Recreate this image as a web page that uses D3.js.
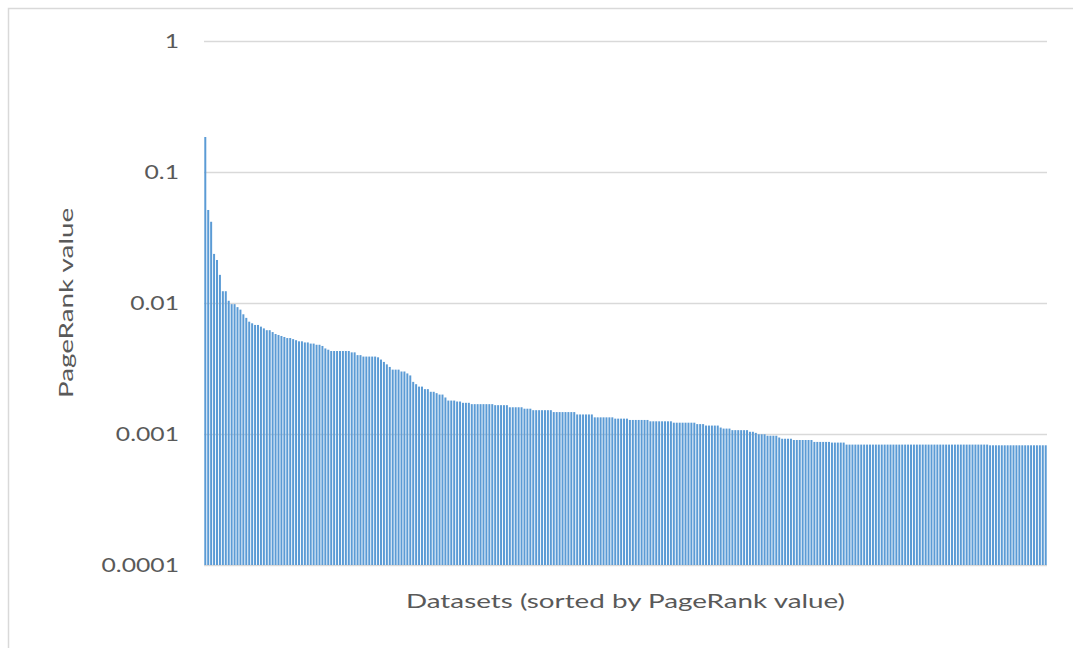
<!DOCTYPE html>
<html>
<head>
<meta charset="utf-8">
<script src="https://cdn.jsdelivr.net/npm/d3@7"></script>
<style>
  body { margin: 0; background: #fff; }
  svg text { font-family: Lato, "Open Sans", sans-serif; fill: #595959; }
</style>
</head>
<body>
<div id="chart"></div>
<script>
// variables
const WIDTH = 1073;
const HEIGHT = 648;
const MARGIN = { top: 41, right: 26, bottom: 83, left: 204 };
const BAR_COLOR = "#5b9bd5";
const GRID_COLOR = "#d9d9d9";
const TICK_STRETCH = 1.3;
const TITLE_STRETCH = 1.39;

// data: PageRank values (sorted, highest first)
const headValues = [
  0.185, 0.0513, 0.0417, 0.0237, 0.0213, 0.0164, 0.0123, 0.0123, 0.0104, 0.0098,
  0.0098, 0.0093, 0.0089, 0.0082, 0.0077, 0.0072, 0.0070, 0.0068, 0.0068, 0.0066,
  0.0064, 0.0062, 0.0062, 0.0060, 0.0058, 0.0057, 0.0056, 0.0055, 0.0054, 0.0054,
  0.0053, 0.0052, 0.0051, 0.0051, 0.0050, 0.0050, 0.0049, 0.0049, 0.0048, 0.0048,
  0.0047, 0.0045, 0.0044, 0.0043, 0.0043, 0.0043, 0.0043, 0.0043, 0.0043, 0.0043,
  0.0042, 0.0042, 0.0040, 0.0040, 0.0039, 0.0039, 0.0039, 0.0039, 0.0039, 0.00385,
  0.0037, 0.00355, 0.0034, 0.00325, 0.0031, 0.0031, 0.0031, 0.0030, 0.0030, 0.0029
];
const midValues = [
  0.0028, 0.0025, 0.0024, 0.0023, 0.0023, 0.0022, 0.0022, 0.0021, 0.0021, 0.00205,
  0.0020, 0.0020, 0.0019, 0.0018, 0.0018, 0.0018, 0.00177, 0.00177, 0.00173, 0.00173,
  0.00173, 0.00169, 0.00169, 0.00169, 0.00169, 0.00169, 0.00169, 0.00169, 0.00169, 0.00166,
  0.00166, 0.00166, 0.00166, 0.00166, 0.0016, 0.0016, 0.0016, 0.0016, 0.0016, 0.00156,
  0.00156, 0.00156, 0.00152, 0.00152, 0.00152, 0.00152, 0.00152, 0.00152, 0.00152, 0.00147,
  0.00147, 0.00147, 0.00147, 0.00147, 0.00147, 0.00147, 0.00147, 0.00141, 0.00141, 0.00141,
  0.00141, 0.00141, 0.00141, 0.00134, 0.00134, 0.00134, 0.00134, 0.00134, 0.00134, 0.00134,
  0.00131, 0.00131, 0.00131, 0.00131, 0.00131, 0.00128, 0.00128, 0.00128, 0.00128, 0.00128,
  0.00128, 0.00128, 0.00125, 0.00125, 0.00125, 0.00125, 0.00125, 0.00125, 0.00125, 0.00125,
  0.00122, 0.00122, 0.00122, 0.00122, 0.00122, 0.00122, 0.00122, 0.00122, 0.00119, 0.00119,
  0.00119, 0.00116, 0.00116, 0.00116, 0.00116, 0.00116, 0.00112, 0.0011, 0.0011, 0.0011,
  0.00107, 0.00107, 0.00107, 0.00107, 0.00107, 0.00107, 0.00104, 0.00104, 0.00102, 0.000995
];
const tailValues = [
  0.000995, 0.000995, 0.00097, 0.00097, 0.00097, 0.00097, 0.00094, 0.00092, 0.00092, 0.00092,
  0.00092, 0.0009, 0.0009, 0.0009, 0.0009, 0.0009, 0.0009, 0.0009, 0.00087, 0.00087,
  0.00087, 0.00087, 0.00087, 0.00087, 0.00086, 0.00086, 0.00086, 0.00086, 0.00086, 0.00083,
  0.00083, 0.00083, 0.00083, 0.00083, 0.00083, 0.00083, 0.00083, 0.00083, 0.00083, 0.00083,
  0.00083, 0.00083, 0.00083, 0.00083, 0.00083, 0.00083, 0.00083, 0.00083, 0.00083, 0.00083,
  0.00083, 0.00083, 0.00083, 0.00083, 0.00083, 0.00083, 0.00083, 0.00083, 0.00083, 0.00083,
  0.00083, 0.00083, 0.00083, 0.00083, 0.00083, 0.00083, 0.00083, 0.00083, 0.00083, 0.00083,
  0.00083, 0.00083, 0.00083, 0.00083, 0.00083, 0.00083, 0.00083, 0.00083, 0.00082, 0.00082,
  0.00082, 0.00082, 0.00082, 0.00082, 0.00082, 0.00082, 0.00082, 0.00082, 0.00082, 0.00082,
  0.00082, 0.00082, 0.00082, 0.00082, 0.00082, 0.00082, 0.00082, 0.00082
];
const pageRank = headValues.concat(midValues, tailValues);

const yTicks = [1, 0.1, 0.01, 0.001, 0.0001];
const yTickLabels = ["1", "0.1", "0.01", "0.001", "0.0001"];
const xTitle = "Datasets (sorted by PageRank value)";
const yTitle = "PageRank value";

const innerW = WIDTH - MARGIN.left - MARGIN.right;
const innerH = HEIGHT - MARGIN.top - MARGIN.bottom;

const svg = d3
  .select("#chart")
  .append("svg")
  .attr("width", WIDTH)
  .attr("height", HEIGHT);

svg.append("rect").attr("width", WIDTH).attr("height", HEIGHT).attr("fill", "#fff");

// chart area border (cut by the window on the right and bottom)
svg
  .append("rect")
  .attr("x", 8.5)
  .attr("y", 8.5)
  .attr("width", WIDTH + 20)
  .attr("height", HEIGHT + 20)
  .attr("fill", "none")
  .attr("stroke", GRID_COLOR)
  .attr("stroke-width", 1.5);

const g = svg.append("g").attr("transform", `translate(${MARGIN.left},${MARGIN.top})`);

// scales
const x = d3
  .scaleBand()
  .domain(d3.range(pageRank.length))
  .range([0, innerW])
  .paddingInner(0.32)
  .paddingOuter(0.1);

const y = d3.scaleLog().domain([0.0001, 1]).range([innerH, 0]);

// gridlines
g
  .append("g")
  .attr("class", "grid")
  .call(d3.axisLeft(y).tickValues(yTicks).tickSize(-innerW).tickFormat(""))
  .call(a => a.select(".domain").remove())
  .call(a => a.selectAll("line").attr("stroke", GRID_COLOR).attr("stroke-width", 1.5));

// bars
g
  .append("g")
  .selectAll("rect")
  .data(pageRank)
  .enter()
  .append("rect")
  .attr("x", (d, i) => x(i))
  .attr("width", x.bandwidth())
  .attr("y", d => y(d))
  .attr("height", d => innerH - y(d))
  .attr("fill", BAR_COLOR);

// y axis labels
const yAxis = g
  .append("g")
  .call(
    d3
      .axisLeft(y)
      .tickValues(yTicks)
      .tickSize(0)
      .tickPadding(25)
      .tickFormat((d, i) => yTickLabels[i])
  );
yAxis.select(".domain").remove();
yAxis
  .selectAll("text")
  .attr("font-size", 19)
  .attr("fill", "#595959")
  .style("font-family", "Lato, 'Open Sans', sans-serif");

// stretch text to match the wide lettering of the original
function stretch(sel, k) {
  sel.each(function() {
    const len = this.getComputedTextLength();
    d3.select(this)
      .attr("textLength", len * k)
      .attr("lengthAdjust", "spacingAndGlyphs");
  });
}
stretch(yAxis.selectAll("text"), TICK_STRETCH);

// axis titles
const xt = svg
  .append("text")
  .attr("x", MARGIN.left + innerW / 2)
  .attr("y", 608)
  .attr("text-anchor", "middle")
  .attr("font-size", 20)
  .text(xTitle);
stretch(xt, TITLE_STRETCH);

const yt = svg
  .append("text")
  .attr("transform", `translate(73,${MARGIN.top + innerH / 2}) rotate(-90)`)
  .attr("text-anchor", "middle")
  .attr("font-size", 20)
  .text(yTitle);
stretch(yt, TITLE_STRETCH);
</script>
</body>
</html>
